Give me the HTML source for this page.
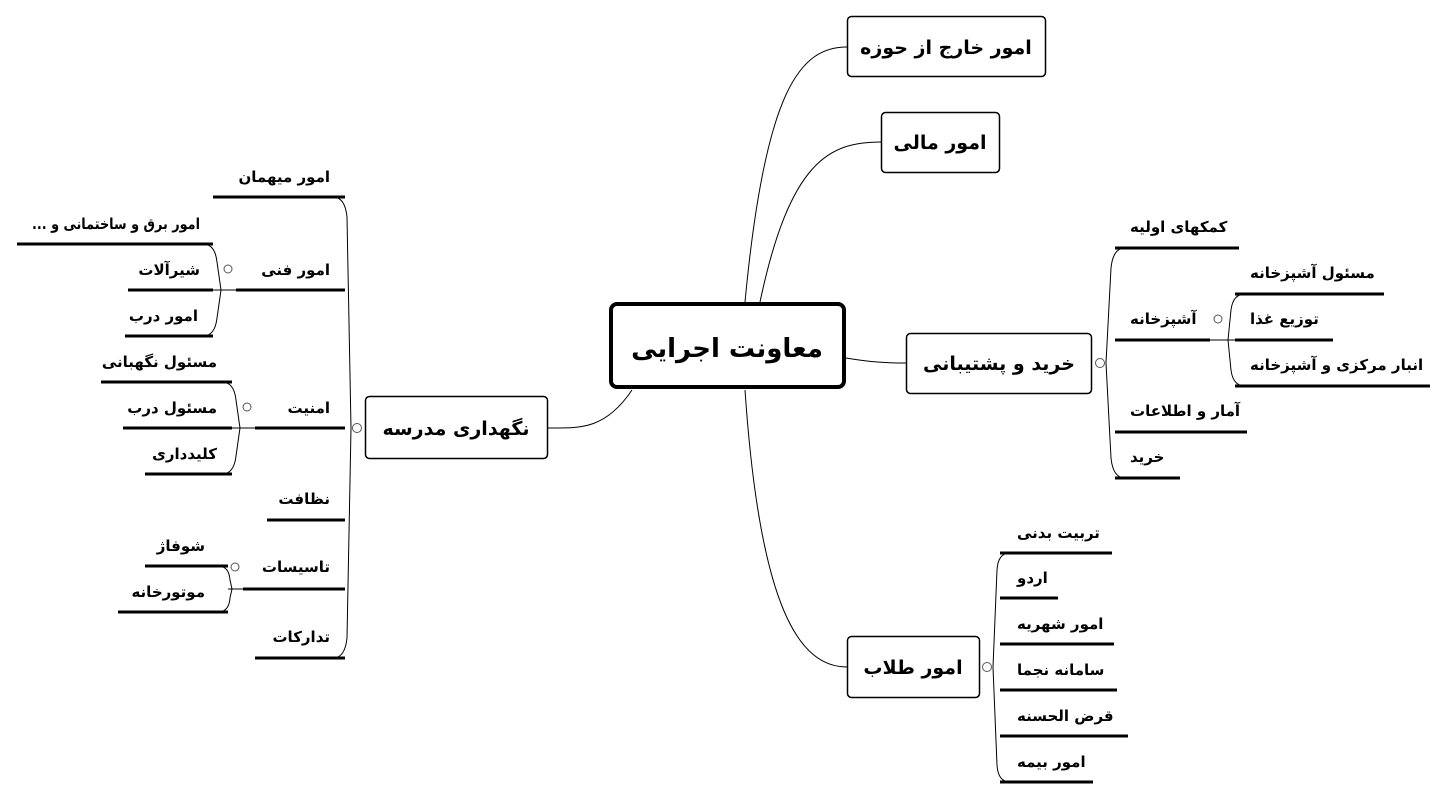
<!DOCTYPE html>
<html><head><meta charset="utf-8"><style>
html,body{margin:0;padding:0;background:#fff;width:1448px;height:800px;overflow:hidden}
svg text{font-family:"DejaVu Sans","Liberation Sans",sans-serif;font-weight:bold;fill:#000}
.c{font-size:15px}
.m{font-size:19px}
</style></head><body>
<svg width="1448" height="800" viewBox="0 0 1448 800" xmlns="http://www.w3.org/2000/svg">
<g fill="none" stroke="#000" stroke-width="1">
<path d="M745,302 C765,90 800,47 847,47"/>
<path d="M760,302 C790,160 830,142 881,142"/>
<path d="M846,358 C870,362 885,363 906,363"/>
<path d="M745,390 C760,610 800,667 847,667"/>
<path d="M632,390 C605,430 580,428 548,428"/>
<path d="M1125,248 Q1113,248 1111,268 L1106,363 L1111,458 Q1113,478 1125,478"/>
<path d="M1245,294 Q1233,294 1231,310 L1228,340 L1231,370 Q1233,386 1245,386"/>
<path d="M1210,340 L1235,340"/>
<path d="M1010,553 Q998,553 997,570 L993,667 L997,765 Q998,782 1010,782"/>
<path d="M333,197 Q345,197 347,217 L351,428 L347,638 Q345,658 333,658"/>
<path d="M203,244 Q215,244 217,262 L221,290 L217,318 Q215,336 203,336"/>
<path d="M213,290 L253,290"/>
<path d="M222,382 Q234,382 236,400 L240,428 L236,456 Q234,474 222,474"/>
<path d="M232,428 L255,428"/>
<path d="M218,566 Q229,566 230,580 L232,589 L230,598 Q229,612 218,612"/>
<path d="M228,589 L243,589"/>
</g>
<g fill="#fff" stroke="#555" stroke-width="1">
<circle cx="1100" cy="363" r="4.5"/>
<circle cx="1218" cy="319" r="4"/>
<circle cx="987" cy="667" r="4.5"/>
<circle cx="357" cy="428" r="4.5"/>
<circle cx="228" cy="269" r="4"/>
<circle cx="247" cy="407" r="4"/>
<circle cx="235" cy="567" r="4"/>
</g>
<g stroke="#000" stroke-width="3" fill="none">
<line x1="1115" y1="248" x2="1239" y2="248"/>
<line x1="1115" y1="340" x2="1210" y2="340"/>
<line x1="1115" y1="432" x2="1247" y2="432"/>
<line x1="1115" y1="478" x2="1180" y2="478"/>
<line x1="1235" y1="294" x2="1384" y2="294"/>
<line x1="1235" y1="340" x2="1333" y2="340"/>
<line x1="1235" y1="386" x2="1430" y2="386"/>
<line x1="1000" y1="553" x2="1112" y2="553"/>
<line x1="1000" y1="598" x2="1058" y2="598"/>
<line x1="1000" y1="644" x2="1114" y2="644"/>
<line x1="1000" y1="690" x2="1117" y2="690"/>
<line x1="1000" y1="736" x2="1128" y2="736"/>
<line x1="1000" y1="782" x2="1093" y2="782"/>
<line x1="213" y1="197" x2="345" y2="197"/>
<line x1="236" y1="290" x2="345" y2="290"/>
<line x1="255" y1="428" x2="345" y2="428"/>
<line x1="267" y1="520" x2="345" y2="520"/>
<line x1="243" y1="589" x2="345" y2="589"/>
<line x1="255" y1="658" x2="345" y2="658"/>
<line x1="17" y1="244" x2="213" y2="244"/>
<line x1="128" y1="290" x2="213" y2="290"/>
<line x1="125" y1="336" x2="213" y2="336"/>
<line x1="101" y1="382" x2="232" y2="382"/>
<line x1="123" y1="428" x2="232" y2="428"/>
<line x1="145" y1="474" x2="232" y2="474"/>
<line x1="145" y1="566" x2="228" y2="566"/>
<line x1="118" y1="612" x2="228" y2="612"/>
</g>
<g fill="#fff" stroke="#000">
<rect x="611" y="304" width="233" height="83" rx="6" stroke-width="4"/>
<rect x="847.5" y="16.5" width="198" height="60" rx="4" stroke-width="1.5"/>
<rect x="881.5" y="112.5" width="118" height="60" rx="4" stroke-width="1.5"/>
<rect x="906.5" y="333.5" width="185" height="60" rx="4" stroke-width="1.5"/>
<rect x="847.5" y="636.5" width="132" height="61" rx="4" stroke-width="1.5"/>
<rect x="365.5" y="396.5" width="182" height="62" rx="4" stroke-width="1.5"/>
</g>
<text x="727" y="357" font-size="26" text-anchor="middle">معاونت اجرایی</text>
<text class="m" x="946" y="54" text-anchor="middle">امور خارج از حوزه</text>
<text class="m" x="940" y="149" text-anchor="middle">امور مالی</text>
<text class="m" x="999" y="370" text-anchor="middle">خرید و پشتیبانی</text>
<text class="m" x="913" y="674" text-anchor="middle">امور طلاب</text>
<text class="m" x="456" y="435" text-anchor="middle">نگهداری مدرسه</text>
<text class="c" x="1130" y="232">کمکهای اولیه</text>
<text class="c" x="1130" y="324">آشپزخانه</text>
<text class="c" x="1130" y="416">آمار و اطلاعات</text>
<text class="c" x="1130" y="462">خرید</text>
<text class="c" x="1250" y="278">مسئول آشپزخانه</text>
<text class="c" x="1250" y="324">توزیع غذا</text>
<text class="c" x="1250" y="370">انبار مرکزی و آشپزخانه</text>
<text class="c" x="1017" y="538">تربیت بدنی</text>
<text class="c" x="1017" y="583">اردو</text>
<text class="c" x="1017" y="629">امور شهریه</text>
<text class="c" x="1017" y="675">سامانه نجما</text>
<text class="c" x="1017" y="721">قرض الحسنه</text>
<text class="c" x="1017" y="767">امور بیمه</text>
<g text-anchor="end">
<text class="c" x="330" y="182">امور میهمان</text>
<text class="c" x="330" y="275">امور فنی</text>
<text class="c" x="330" y="413">امنیت</text>
<text class="c" x="330" y="504">نظافت</text>
<text class="c" x="330" y="572">تاسیسات</text>
<text class="c" x="330" y="642">تدارکات</text>
<text class="c" x="200" y="229" textLength="168" lengthAdjust="spacingAndGlyphs">... امور برق و ساختمانی و</text>
<text class="c" x="200" y="275">شیرآلات</text>
<text class="c" x="198" y="321">امور درب</text>
<text class="c" x="217" y="367">مسئول نگهبانی</text>
<text class="c" x="217" y="413">مسئول درب</text>
<text class="c" x="217" y="459">کلیدداری</text>
<text class="c" x="205" y="551">شوفاژ</text>
<text class="c" x="205" y="597">موتورخانه</text>
</g>
</svg>
</body></html>
